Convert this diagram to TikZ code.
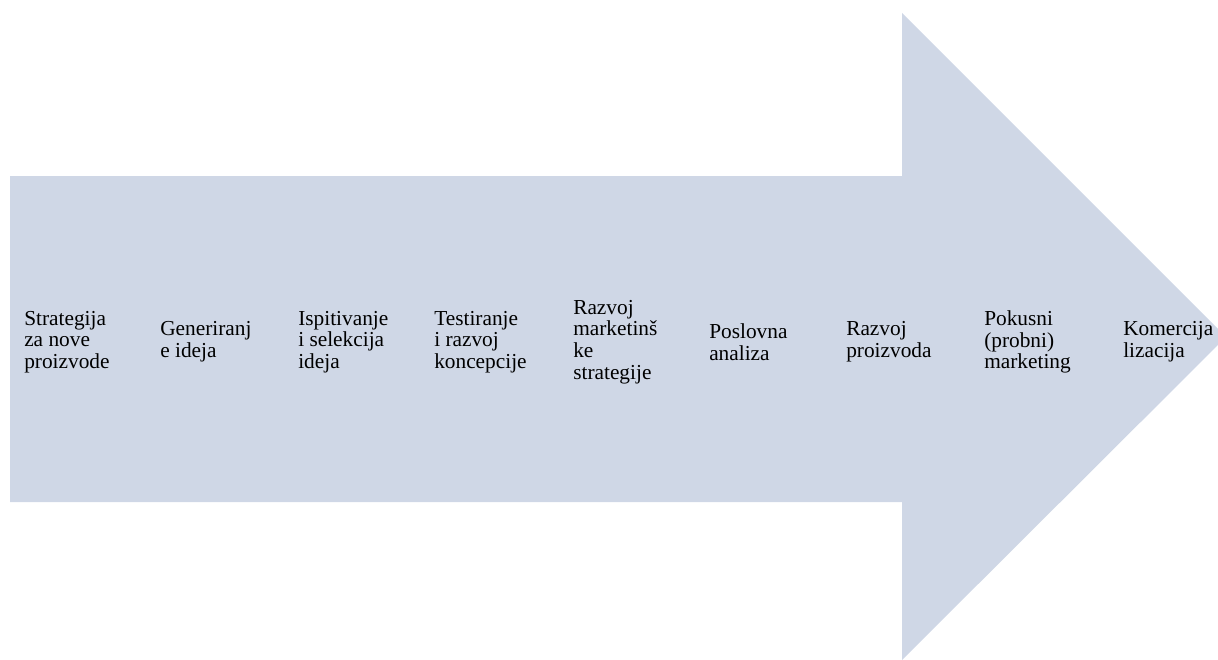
\documentclass[tikz,border=0pt]{standalone}
\usepackage{fontspec}
\setmainfont{Liberation Serif}
\definecolor{arrowblue}{RGB}{207,215,230}
\begin{document}
\begin{tikzpicture}[
    x=0.75pt, y=-0.75pt,
    every node/.style={anchor=west, align=left, inner sep=0pt, font=\fontsize{16}{16.2}\selectfont},
]
  \useasboundingbox (0,0) rectangle (1218,660);
  \clip (0,0) rectangle (1218,660);
  % big arrow
  \fill [arrowblue] (10,176) -- (902,176) -- (902,13) -- (1226,337)
                    -- (902,660) -- (902,502) -- (10,502) -- cycle;
  % stages
  \node []  (strategija) at (24,  342)  {Strategija\\za nove\\proizvode};
  \node []  (ideje)      at (160, 342)  {Generiranj\\e ideja};
  \node []  (selekcija)  at (298, 342)  {Ispitivanje\\i selekcija\\ideja};
  \node []  (koncepcija) at (434, 342)  {Testiranje\\i razvoj\\koncepcije};
  \node []  (marketing)  at (573, 342)  {Razvoj\\marketinš\\ke\\strategije};
  \node []  (analiza)    at (709, 342)  {Poslovna\\analiza};
  \node []  (proizvod)   at (846, 342)  {Razvoj\\proizvoda};
  \node []  (pokusni)    at (984, 342)  {Pokusni\\(probni)\\marketing};
  \node []  (komerc)     at (1123,342)  {Komercija\\lizacija};
\end{tikzpicture}
\end{document}
